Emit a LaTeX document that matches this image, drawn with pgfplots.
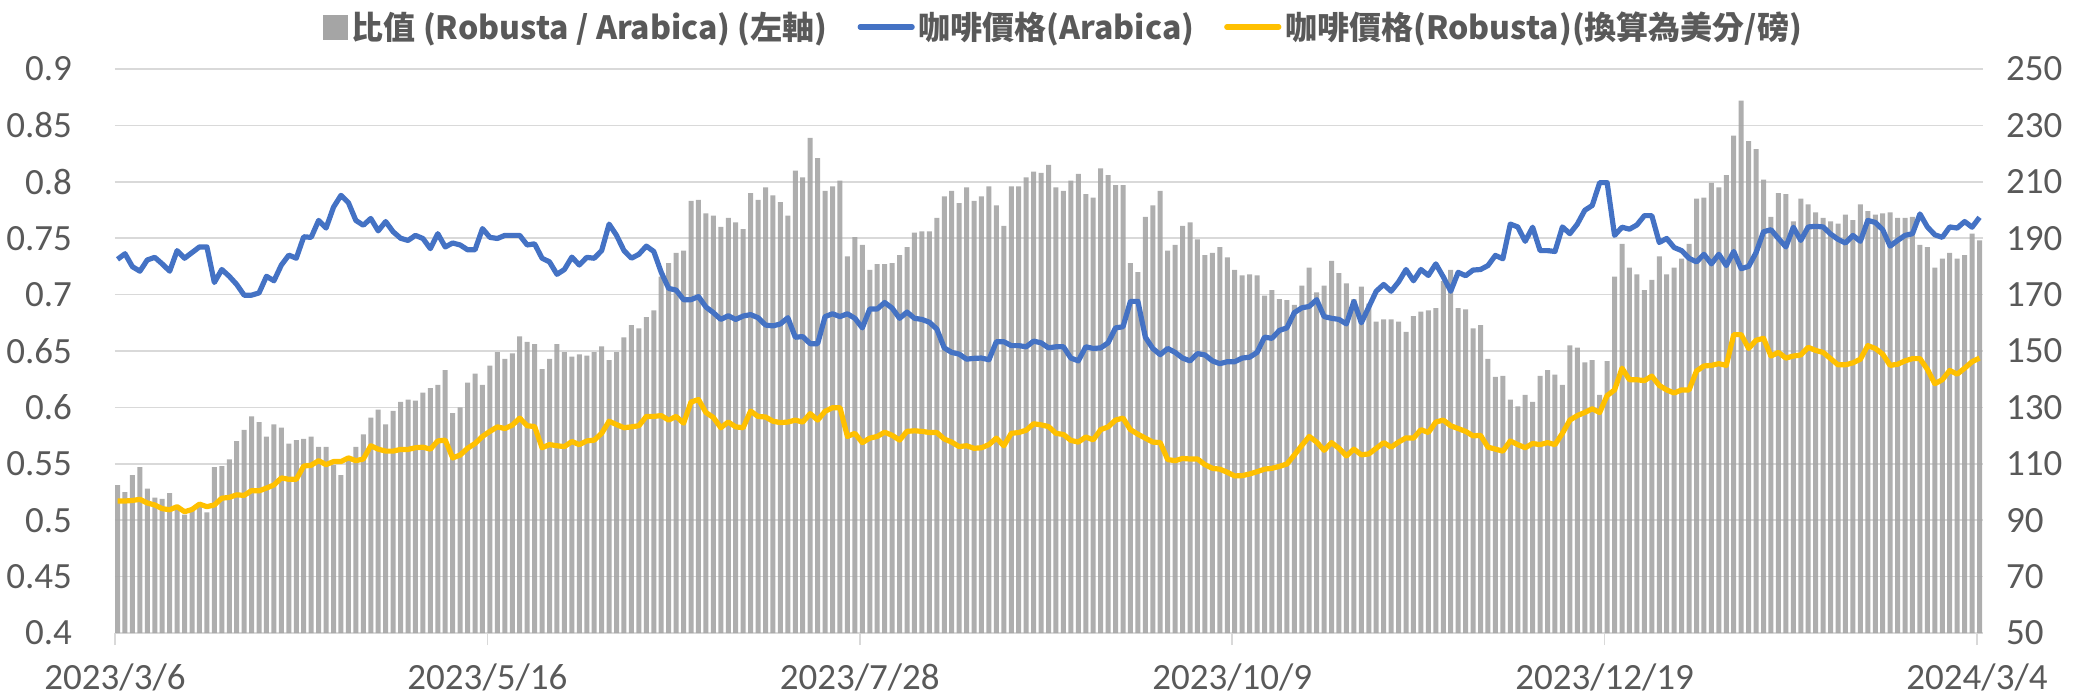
\documentclass[border=0pt]{standalone}
\usepackage{pgfplots}
\pgfplotsset{compat=1.18}
\usepackage{pgfplotstable}
\usepackage{fontspec}
\setmainfont{Carlito}
\newfontfamily\cjk{Noto Sans CJK TC}
\definecolor{barg}{HTML}{A5A5A5}
\definecolor{blu}{HTML}{4472C4}
\definecolor{yel}{HTML}{FFC000}
\definecolor{gridg}{HTML}{D9D9D9}
\definecolor{txt}{HTML}{595959}
\pgfplotstableread{
i r a b
0 0.531 182.5 96.8
1 0.525 184.5 96.8
2 0.540 179.9 97.0
3 0.547 178.3 97.4
4 0.528 182.3 96.1
5 0.520 183.2 95.4
6 0.519 180.9 94.1
7 0.524 178.3 93.7
8 0.510 185.6 94.8
9 0.505 182.9 93.0
10 0.510 184.9 93.8
11 0.512 186.9 95.7
12 0.507 186.9 94.8
13 0.547 174.3 95.4
14 0.548 178.9 97.8
15 0.554 176.5 98.1
16 0.570 173.6 99.0
17 0.580 169.8 98.8
18 0.592 169.8 100.5
19 0.587 170.6 100.4
20 0.574 176.5 101.4
21 0.585 174.9 102.5
22 0.582 180.5 105.0
23 0.568 184.0 104.5
24 0.571 182.9 104.5
25 0.572 190.5 109.2
26 0.574 190.3 109.5
27 0.565 196.3 111.1
28 0.565 193.6 109.7
29 0.549 201.0 110.8
30 0.540 205.2 110.8
31 0.554 202.6 112.1
32 0.565 196.3 111.1
33 0.576 194.6 111.7
34 0.591 197.0 116.4
35 0.598 192.6 115.2
36 0.585 195.9 114.5
37 0.597 192.3 114.5
38 0.605 190.0 115.1
39 0.607 189.2 115.1
40 0.606 191.0 115.7
41 0.613 189.9 115.9
42 0.617 186.3 115.2
43 0.620 191.6 118.1
44 0.633 186.9 118.4
45 0.595 188.3 112.1
46 0.600 187.6 113.1
47 0.622 185.9 115.5
48 0.630 185.9 117.2
49 0.620 193.4 119.7
50 0.637 190.3 121.5
51 0.649 189.9 123.1
52 0.643 191.0 122.5
53 0.648 191.0 123.7
54 0.663 191.0 126.2
55 0.658 187.6 123.5
56 0.656 188.0 123.2
57 0.634 182.9 115.7
58 0.643 181.6 116.8
59 0.656 177.2 116.4
60 0.649 178.9 116.1
61 0.645 183.3 117.9
62 0.647 180.5 116.8
63 0.646 183.2 118.1
64 0.649 182.9 118.4
65 0.654 185.6 120.8
66 0.642 195.0 125.1
67 0.649 191.0 123.9
68 0.662 185.6 122.8
69 0.673 182.9 123.1
70 0.670 184.3 123.5
71 0.680 187.2 126.8
72 0.686 185.3 126.8
73 0.716 177.9 127.1
74 0.728 172.2 125.5
75 0.737 171.6 126.8
76 0.739 168.2 124.4
77 0.783 168.2 131.9
78 0.784 169.3 132.8
79 0.772 165.6 128.2
80 0.770 163.6 126.4
81 0.760 161.2 122.8
82 0.768 162.5 124.8
83 0.764 161.2 123.1
84 0.758 162.4 122.8
85 0.790 162.9 128.7
86 0.784 161.8 126.8
87 0.795 159.2 126.6
88 0.788 158.9 125.1
89 0.782 159.6 124.6
90 0.770 161.8 124.8
91 0.810 154.9 125.5
92 0.804 155.1 124.8
93 0.839 152.6 127.8
94 0.821 152.6 125.5
95 0.792 162.2 128.6
96 0.796 163.2 129.9
97 0.801 162.2 129.9
98 0.734 163.2 119.7
99 0.751 161.6 120.8
100 0.744 158.2 117.5
101 0.722 164.9 119.1
102 0.727 164.9 119.7
103 0.727 167.2 121.2
104 0.728 165.2 120.1
105 0.735 161.6 118.4
106 0.742 163.8 121.5
107 0.755 161.6 121.7
108 0.756 161.2 121.5
109 0.756 160.2 121.1
110 0.768 157.8 121.1
111 0.787 151.1 118.8
112 0.792 149.5 117.7
113 0.781 148.9 116.1
114 0.795 147.1 116.4
115 0.783 147.4 115.5
116 0.787 147.5 115.7
117 0.796 146.9 116.8
118 0.779 153.3 119.1
119 0.761 153.3 116.4
120 0.796 151.9 120.8
121 0.796 151.9 121.1
122 0.804 151.5 121.9
123 0.809 153.5 124.2
124 0.808 152.9 123.8
125 0.815 151.1 123.2
126 0.795 151.5 120.8
127 0.792 151.5 120.4
128 0.801 147.5 118.3
129 0.807 146.5 117.7
130 0.789 151.5 119.5
131 0.786 150.9 118.5
132 0.812 151.1 122.1
133 0.806 152.9 123.1
134 0.797 158.2 125.5
135 0.797 158.6 126.2
136 0.728 167.6 122.1
137 0.720 167.6 120.5
138 0.769 154.9 119.1
139 0.779 150.9 117.7
140 0.792 148.7 117.5
141 0.739 150.9 111.5
142 0.744 149.5 111.1
143 0.761 147.5 111.9
144 0.764 146.5 111.7
145 0.749 149.1 111.7
146 0.735 148.6 109.7
147 0.737 146.5 108.4
148 0.742 145.5 108.1
149 0.733 146.2 107.0
150 0.722 146.2 105.7
151 0.717 147.5 105.8
152 0.718 147.8 106.4
153 0.717 149.5 107.2
154 0.699 154.9 108.1
155 0.704 154.5 108.4
156 0.696 157.3 109.1
157 0.695 158.2 109.9
158 0.691 163.6 113.1
159 0.708 165.3 116.5
160 0.724 165.8 119.7
161 0.702 168.2 117.7
162 0.708 162.2 114.8
163 0.730 161.6 117.5
164 0.719 161.2 115.5
165 0.710 159.6 112.8
166 0.696 167.6 115.2
167 0.707 160.0 113.2
168 0.692 165.6 113.5
169 0.676 171.2 115.5
170 0.678 173.6 117.5
171 0.678 171.2 115.9
172 0.676 174.5 117.7
173 0.667 178.9 119.2
174 0.681 174.9 119.1
175 0.685 178.9 122.1
176 0.686 176.8 121.1
177 0.688 180.9 124.8
178 0.712 176.3 125.5
179 0.722 171.2 123.5
180 0.688 177.9 122.5
181 0.687 176.7 121.5
182 0.670 178.7 119.9
183 0.673 178.9 120.1
184 0.643 180.3 115.9
185 0.627 183.9 115.2
186 0.628 182.7 114.5
187 0.607 195.0 118.1
188 0.601 194.0 116.8
189 0.611 188.9 115.7
190 0.605 193.9 117.2
191 0.628 185.6 116.8
192 0.633 185.6 117.5
193 0.629 185.3 116.8
194 0.620 194.0 120.8
195 0.655 191.6 125.5
196 0.653 195.0 127.1
197 0.640 199.9 128.2
198 0.642 201.6 129.5
199 0.611 209.7 128.2
200 0.641 209.7 134.2
201 0.716 191.0 136.2
202 0.745 193.9 143.9
203 0.724 193.2 139.8
204 0.718 194.7 139.8
205 0.704 198.0 139.5
206 0.713 198.0 141.1
207 0.734 188.5 137.8
208 0.718 189.9 136.2
209 0.724 186.7 135.1
210 0.732 185.6 136.2
211 0.745 182.9 136.2
212 0.785 181.6 142.9
213 0.786 184.3 144.7
214 0.799 180.9 144.9
215 0.795 184.3 145.5
216 0.806 180.3 144.9
217 0.841 185.3 155.8
218 0.872 179.2 155.8
219 0.836 180.0 150.9
220 0.829 184.9 153.8
221 0.802 192.3 154.5
222 0.769 193.0 148.2
223 0.790 189.9 149.5
224 0.789 186.9 147.5
225 0.765 193.9 148.2
226 0.785 189.2 148.6
227 0.780 194.0 151.3
228 0.773 194.2 150.2
229 0.768 194.0 149.5
230 0.765 191.5 147.3
231 0.763 189.6 145.1
232 0.771 188.3 145.1
233 0.766 191.0 145.8
234 0.780 188.9 147.1
235 0.774 196.3 151.9
236 0.771 195.6 150.9
237 0.772 193.0 148.9
238 0.773 187.2 144.9
239 0.768 189.2 145.3
240 0.768 191.0 146.5
241 0.769 191.6 147.3
242 0.744 198.6 147.3
243 0.742 194.0 143.5
244 0.724 191.2 138.4
245 0.732 190.3 139.8
246 0.737 194.0 143.1
247 0.732 193.6 141.8
248 0.735 195.9 143.9
249 0.754 193.9 146.2
250 0.748 197.4 147.5
}\data
\pgfplotsset{
  base/.style={
    scale only axis, width=934pt, height=282pt,
    xmin=-0.34, xmax=250.47,
    axis line style={draw=none},
    tick label style={font=\fontsize{18.5}{20}\selectfont, color=txt},
  }
}
\begin{document}
\begin{tikzpicture}
\path[use as bounding box] (-57.5pt,-32pt) rectangle (981pt,316.5pt);
\begin{axis}[base,
  ymin=0.4, ymax=0.9,
  ytick={0.4,0.45,0.5,0.55,0.6,0.65,0.7,0.75,0.8,0.85,0.9},
  yticklabels={0.4,0.45,0.5,0.55,0.6,0.65,0.7,0.75,0.8,0.85,0.9},
  ytick style={draw=none},
  yticklabel style={xshift=-12pt},
  ymajorgrids, grid style={color=gridg, line width=0.75pt},
  xtick={-0.34,49.66,99.66,149.66,199.66,249.66},
  xticklabels={2023/3/6,2023/5/16,2023/7/28,2023/10/9,2023/12/19,2024/3/4},
  xtick pos=left, tick align=outside, major tick length=6pt,
  xtick style={draw=gridg, line width=0.75pt},
  xticklabel style={yshift=-6pt},
]
\addplot[ybar, bar width=2.5pt, fill=barg, fill opacity=0.9, draw=none] table[x=i,y=r]{\data};
\end{axis}
\begin{axis}[base,
  ymin=50, ymax=250,
  ytick={50,70,90,110,130,150,170,190,210,230,250},
  yticklabels={50,70,90,110,130,150,170,190,210,230,250},
  ytick pos=right, yticklabel pos=right,
  ytick style={draw=none},
  yticklabel style={xshift=8pt},
  xtick=\empty,
  legend columns=3,
  legend style={at={(0.5083,1.0745)}, anchor=center, draw=none, fill=none,
    font=\cjk\bfseries\fontsize{16}{18}\selectfont, text=txt,
    /tikz/every even column/.append style={column sep=13pt}},
]
\addlegendimage{legend image code/.code={\fill[barg] (0pt,-6pt) rectangle (12pt,6pt);}}
\addlegendentry{比值 (Robusta / Arabica) (左軸)}
\addplot[color=blu, line width=2.6pt, line join=round,
  legend image code/.code={\draw[line cap=round] (0pt,0pt) -- (26pt,0pt);}] table[x=i,y=a]{\data};
\addlegendentry{咖啡價格(Arabica)}
\addplot[color=yel, line width=2.6pt, line join=round,
  legend image code/.code={\draw[line cap=round] (0pt,0pt) -- (26pt,0pt);}] table[x=i,y=b]{\data};
\addlegendentry{咖啡價格(Robusta)(換算為美分/磅)}
\end{axis}
\end{tikzpicture}
\end{document}
